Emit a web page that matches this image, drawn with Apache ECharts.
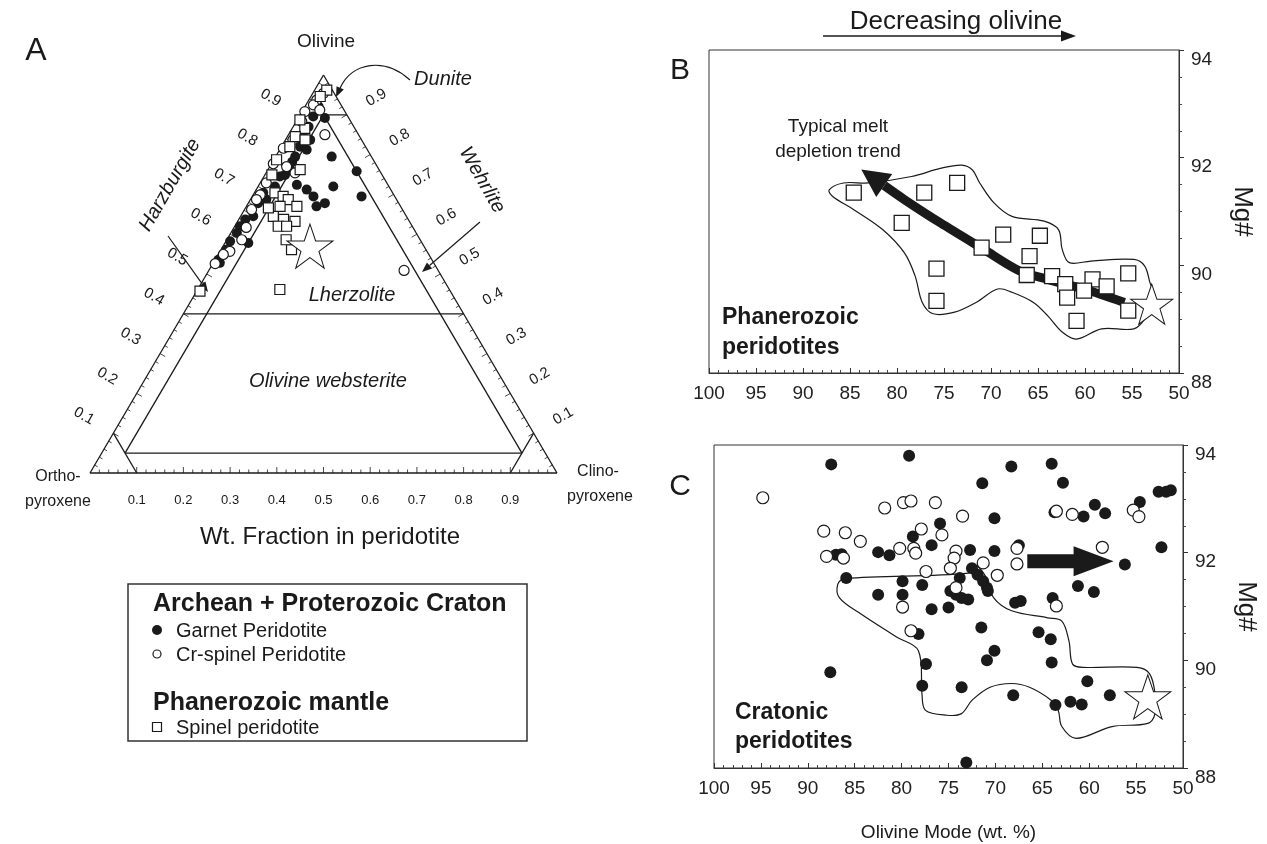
<!DOCTYPE html>
<html><head><meta charset="utf-8">
<script src="https://cdn.jsdelivr.net/npm/echarts@6/dist/echarts.min.js"></script>
<style>html,body{margin:0;padding:0;background:#fff}#c{width:1267px;height:844px}</style>
</head><body><div id="c"></div>
<script>
// ---------------- DATA ----------------
// Panel A: ternary, values are [olivine, clinopyroxene] weight fractions (opx = 1 - ol - cpx)
const ternTickValues = [0.1, 0.2, 0.3, 0.4, 0.5, 0.6, 0.7, 0.8, 0.9];
const ternGarnet = [
  [0.795,0.120],[0.758,0.192],[0.720,0.161],[0.695,0.234],[0.712,0.108],[0.695,0.131],[0.670,0.150],[0.678,0.164],
  [0.921,0.029],[0.896,0.030],[0.870,0.033],[0.845,0.034],[0.820,0.040],[0.795,0.042],[0.762,0.047],[0.745,0.034],
  [0.720,0.036],[0.704,0.019],[0.678,0.021],[0.645,0.027],[0.637,0.014],[0.620,0.011],[0.603,0.013],[0.582,0.009],
  [0.578,0.050],[0.536,0.007],[0.528,0.014],[0.812,0.058],[0.837,0.053],[0.749,0.043],[0.724,0.081],[0.892,0.057],
  [0.782,0.042],[0.687,0.034],[0.561,0.011]
];
const ternCrSpinel = [
  [0.954,0.023],[0.937,0.017],[0.925,0.016],[0.908,0.006],[0.912,0.036],[0.883,0.012],[0.816,0.006],[0.754,0.062],
  [0.699,0.015],[0.687,0.013],[0.662,0.015],[0.586,0.032],[0.557,0.021],[0.549,0.011],[0.526,0.005],[0.850,0.078],
  [0.770,0.036],[0.509,0.418],[0.617,0.026],[0.729,0.013],[0.837,0.016],[0.777,0.004]
];
const ternSpinel = [
  [0.962,0.026],[0.946,0.020],[0.866,0.027],[0.887,0.006],[0.845,0.017],[0.820,0.018],[0.787,0.006],[0.749,0.015],
  [0.704,0.044],[0.695,0.066],[0.687,0.081],[0.670,0.108],[0.645,0.070],[0.637,0.096],[0.632,0.123],[0.670,0.072],
  [0.666,0.049],[0.620,0.093],[0.620,0.111],[0.561,0.151],[0.461,0.176],[0.457,0.007],[0.762,0.069],[0.837,0.042],
  [0.586,0.127]
];
const ternStar = [[0.570, 0.186]];
// classification boundaries [ol1, cpx1, ol2, cpx2]
const ternBoundaries = [
  [0,0, 0,1], [0,1, 1,0], [1,0, 0,0],
  [0.9,0, 0.9,0.1],
  [0.9,0.05, 0.05,0.05],
  [0.9,0.05, 0.05,0.9],
  [0.4,0, 0.4,0.6],
  [0.05,0.05, 0.05,0.9],
  [0.1,0, 0,0.1],
  [0.1,0.9, 0,0.9]
];

// Panel B: Phanerozoic peridotites [olivine mode wt.%, Mg#]
const phanSpinel = [
  [84.6,91.35],[77.1,91.35],[73.6,91.53],[79.5,90.79],[68.7,90.57],[64.8,90.55],[71.0,90.33],[65.9,90.17],
  [75.8,89.94],[75.8,89.34],[66.2,89.82],[63.5,89.80],[62.1,89.65],[59.2,89.74],[57.7,89.61],[55.4,89.85],
  [60.1,89.53],[61.9,89.40],[55.4,89.16],[60.9,88.97]
];
const phanStar = [[52.9, 89.28]];
const phanTrend = [[55.8,89.31],[60.1,89.56],[64.0,89.74],[67.0,89.90],[70.8,90.30],[75.4,90.79],[79.2,91.22],[83.8,91.78]];
const phanEnvelope = [
  [87.22,91.40],[85.70,91.53],[83.03,91.53],[78.45,91.65],[75.40,91.80],[73.11,91.86],[71.97,91.77],[71.20,91.53],
  [69.68,91.16],[67.77,90.91],[64.34,90.82],[62.81,90.66],[62.43,90.30],[61.67,90.05],[59.38,90.08],[54.81,90.11],
  [53.66,89.99],[53.09,89.68],[52.52,89.37],[53.66,89.00],[54.81,88.82],[58.24,88.82],[60.91,88.63],[62.43,88.76],
  [63.96,89.06],[65.48,89.31],[67.77,89.50],[69.30,89.56],[71.59,89.31],[73.87,89.13],[76.16,89.10],[77.31,89.31],
  [78.07,89.80],[79.21,90.23],[81.50,90.66],[84.55,91.03],[86.84,91.28]
];

// Panel C: cratonic peridotites [olivine mode wt.%, Mg#]
const cratGarnet = [
  [87.5,93.64],[79.2,93.80],[68.3,93.60],[64.0,93.65],[62.8,93.30],[71.4,93.29],[70.1,92.64],[63.7,92.75],
  [60.6,92.67],[59.4,92.89],[58.3,92.73],[54.6,92.94],[52.6,93.13],[51.8,93.13],[51.3,93.16],[78.8,92.30],
  [75.9,92.54],[76.8,92.14],[87.0,91.96],[86.4,91.97],[82.5,92.01],[81.3,91.95],[72.7,92.05],[70.1,92.03],
  [67.5,92.14],[52.3,92.10],[56.2,91.78],[72.5,91.71],[71.9,91.59],[71.3,91.47],[70.9,91.35],[70.8,91.29],
  [85.9,91.53],[79.9,91.47],[77.8,91.40],[73.8,91.53],[74.8,91.29],[74.2,91.22],[73.6,91.16],[72.9,91.13],
  [61.2,91.38],[59.5,91.27],[82.5,91.22],[79.9,91.22],[67.9,91.07],[67.3,91.10],[63.9,91.16],[76.8,90.95],
  [75.0,90.98],[71.5,90.61],[78.2,90.49],[65.4,90.52],[64.1,90.39],[77.4,89.93],[70.1,90.18],[70.9,90.00],
  [87.6,89.78],[64.0,89.96],[60.2,89.61],[77.8,89.53],[73.6,89.50],[68.1,89.35],[57.8,89.35],[63.6,89.17],
  [62.0,89.23],[60.8,89.18],[73.1,88.10]
];
const cratCrSpinel = [
  [94.8,93.02],[81.8,92.83],[79.8,92.93],[79.0,92.96],[76.4,92.93],[73.5,92.68],[63.5,92.77],[61.8,92.71],
  [55.3,92.79],[54.7,92.67],[88.3,92.40],[86.0,92.37],[84.4,92.21],[77.9,92.44],[75.7,92.33],[88.0,91.93],
  [86.2,91.90],[80.2,92.08],[78.7,92.08],[78.5,91.99],[74.2,92.03],[74.4,91.90],[67.7,92.08],[67.7,91.79],
  [58.6,92.10],[77.4,91.65],[74.8,91.71],[71.3,91.81],[69.8,91.58],[74.2,91.35],[79.9,90.99],[79.0,90.55],
  [63.5,91.01]
];
const cratStar = [[53.75, 89.32]];
const cratArrow = [[66.6, 91.84], [57.4, 91.84]];
const cratEnvelope = [
  [86.05,91.52],[72.86,91.62],[72.09,91.76],[70.95,91.53],[70.18,91.16],[68.27,90.92],[64.45,90.79],[62.92,90.73],
  [62.16,90.36],[61.77,89.93],[60.63,89.87],[54.89,89.87],[53.56,89.75],[52.98,89.38],[52.98,89.01],[53.75,88.83],
  [57.57,88.77],[61.39,88.55],[62.92,88.77],[63.30,89.07],[64.07,89.26],[66.36,89.50],[68.27,89.57],[70.57,89.50],
  [72.48,89.26],[73.62,89.01],[75.15,88.98],[77.45,89.07],[77.83,89.38],[78.21,90.18],[80.50,90.43],[84.33,90.86],
  [86.62,91.16],[86.81,91.41]
];

// ---------------- LAYOUT / STYLE ----------------
const FONT = '"Liberation Sans", Arial, sans-serif';
const INK = '#1a1a1a';
const STAR = 'path://M50,0 L61.8,34.5 L97.6,34.5 L68.6,55.9 L79.4,90.5 L50,69.1 L20.6,90.5 L31.4,55.9 L2.4,34.5 L38.2,34.5 Z';
const ternAnnot = {
  harz: [[0.167,0.5955],[0.2527,0.4548]],
  wehr: [[0.835,0.6307],[0.7109,0.505]],
  dunite: [[0.6852,0.9874],[0.6317,1.0452],[0.561,1.0327],[0.5268,0.9447]]
};

function ternXY(ol, cpx) { return [cpx + ol / 2, ol]; }
function seg(p1, p2, w) {
  return {type: 'line', shape: {x1: p1[0], y1: p1[1], x2: p2[0], y2: p2[1]}, style: {stroke: INK, lineWidth: w || 1}};
}
function head(tip, from, len, half) {
  const dx = tip[0] - from[0], dy = tip[1] - from[1], L = Math.hypot(dx, dy) || 1, ux = dx / L, uy = dy / L;
  const bx = tip[0] - ux * len, by = tip[1] - uy * len;
  return {base: [bx, by], el: {type: 'polygon', shape: {points: [[tip[0], tip[1]], [bx - uy * half, by + ux * half], [bx + uy * half, by - ux * half]]}, style: {fill: INK}}};
}
function txt(s, x, y, rot, size, pre) {
  return {type: 'text', x: x, y: y, rotation: rot || 0,
    style: {text: s, font: (pre || '') + ' ' + size + 'px ' + FONT, fill: INK, textAlign: 'center', textVerticalAlign: 'middle'}};
}
function gtext(s, x, y, size, opts) {
  opts = opts || {};
  return {type: 'text', x: x, y: y, rotation: opts.rot || 0, z: 100,
    style: {text: s, font: (opts.pre || '') + ' ' + size + 'px ' + FONT, fill: INK,
      textAlign: opts.align || 'center', textVerticalAlign: 'middle'}};
}

const chart = echarts.init(document.getElementById('c'), null, {renderer: 'canvas'});

const xAxisPanel = (grid, extra) => Object.assign({
  gridIndex: grid, type: 'value', min: 50, max: 100, interval: 5, inverse: true,
  axisLine: {show: true, lineStyle: {color: '#333', width: 1}},
  axisTick: {show: true, inside: true, length: 5, lineStyle: {color: '#333'}},
  minorTick: {show: true, splitNumber: 5, length: 3, lineStyle: {color: '#444'}},
  splitLine: {show: false},
  axisLabel: {fontSize: 19, color: '#222', fontFamily: FONT, margin: 11}
}, extra || {});
const yAxisPanel = (grid) => ({
  gridIndex: grid, type: 'value', position: 'right', min: 88, max: 94, interval: 2,
  axisLine: {show: true, lineStyle: {color: '#333', width: 1}},
  axisTick: {show: true, length: 5, lineStyle: {color: '#333'}},
  minorTick: {show: true, splitNumber: 4, length: 3, lineStyle: {color: '#444'}},
  splitLine: {show: false},
  axisLabel: {fontSize: 19, color: '#222', fontFamily: FONT, margin: 12, verticalAlign: 'top'},
  name: 'Mg#', nameLocation: 'middle', nameRotate: -90, nameGap: 50,
  nameTextStyle: {fontSize: 26, color: INK, fontFamily: FONT}
});

const openStyle = {color: '#fff', borderColor: INK, borderWidth: 1.2, opacity: 1};
const fillStyle = {color: INK, opacity: 1};
const starStyle = {color: '#fff', borderColor: INK, borderWidth: 1, opacity: 1};

const option = {
  animation: false,
  backgroundColor: '#fff',
  grid: [
    {left: 90, top: 75, width: 467, height: 398, show: false},
    {left: 709, top: 50, width: 470, height: 323, show: true, borderColor: '#333', borderWidth: 1, backgroundColor: 'transparent'},
    {left: 714, top: 445, width: 469, height: 323, show: true, borderColor: '#333', borderWidth: 1, backgroundColor: 'transparent'}
  ],
  xAxis: [
    {gridIndex: 0, type: 'value', min: 0, max: 1, show: false},
    xAxisPanel(1),
    xAxisPanel(2, {name: 'Olivine Mode (wt. %)', nameLocation: 'middle', nameGap: 55,
      nameTextStyle: {fontSize: 19, color: INK, fontFamily: FONT}})
  ],
  yAxis: [
    {gridIndex: 0, type: 'value', min: 0, max: 1, show: false},
    yAxisPanel(1),
    yAxisPanel(2)
  ],
  series: [
    // ---------- Panel A ----------
    {type: 'custom', xAxisIndex: 0, yAxisIndex: 0, silent: true, clip: false,
      data: ternBoundaries.map(b => ternXY(b[0], b[1])),
      renderItem: (params, api) => {
        const b = ternBoundaries[params.dataIndex];
        return seg(api.coord(ternXY(b[0], b[1])), api.coord(ternXY(b[2], b[3])), 1.3);
      }},
    {type: 'custom', xAxisIndex: 0, yAxisIndex: 0, silent: true, clip: false,
      data: [[0, 0]],
      renderItem: (params, api) => {
        const ch = [];
        for (let k = 1; k < 50; k++) {
          const t = k / 50, len = (k % 5 === 0) ? 6 : 3.5;
          let p = api.coord(ternXY(0, t)); ch.push(seg(p, [p[0], p[1] - len], 0.8));
          p = api.coord(ternXY(t, 0)); ch.push(seg(p, [p[0] + 0.866 * len, p[1] + 0.5 * len], 0.8));
          p = api.coord(ternXY(t, 1 - t)); ch.push(seg(p, [p[0] - 0.866 * len, p[1] + 0.5 * len], 0.8));
        }
        return {type: 'group', children: ch};
      }},
    {type: 'custom', xAxisIndex: 0, yAxisIndex: 0, silent: true, clip: false,
      data: ternTickValues.map(v => [v, 0]),
      renderItem: (params, api) => {
        const v = ternTickValues[params.dataIndex], s = v.toFixed(1);
        const L = api.coord(ternXY(v, 0)), R = api.coord(ternXY(v, 1 - v)), B = api.coord(ternXY(0, v));
        return {type: 'group', children: [
          txt(s, L[0] - 0.866 * 34, L[1] - 0.5 * 34, -Math.PI / 6, 15),
          txt(s, R[0] + 0.866 * 34, R[1] - 0.5 * 34, Math.PI / 6, 15),
          txt(s, B[0], B[1] + 27, 0, 13)
        ]};
      }},
    {type: 'custom', xAxisIndex: 0, yAxisIndex: 0, silent: true, clip: false,
      data: [[0, 0]],
      renderItem: (params, api) => {
        const ch = [];
        ['harz', 'wehr'].forEach(k => {
          const a = api.coord(ternAnnot[k][0]), b = api.coord(ternAnnot[k][1]);
          const h = head(b, a, 10, 4);
          ch.push(seg(a, h.base, 1.2)); ch.push(h.el);
        });
        const d = ternAnnot.dunite.map(p => api.coord(p));
        const h = head(d[3], d[2], 10, 4);
        ch.push({type: 'bezierCurve', shape: {x1: d[0][0], y1: d[0][1], cpx1: d[1][0], cpy1: d[1][1], cpx2: d[2][0], cpy2: d[2][1], x2: h.base[0], y2: h.base[1]},
          style: {stroke: INK, lineWidth: 1.2, fill: null}});
        ch.push(h.el);
        return {type: 'group', children: ch};
      }},
    {type: 'scatter', xAxisIndex: 0, yAxisIndex: 0, symbol: 'circle', symbolSize: 10,
      itemStyle: fillStyle, data: ternGarnet.map(d => ternXY(d[0], d[1]))},
    {type: 'scatter', xAxisIndex: 0, yAxisIndex: 0, symbol: 'circle', symbolSize: 10,
      itemStyle: openStyle, data: ternCrSpinel.map(d => ternXY(d[0], d[1]))},
    {type: 'scatter', xAxisIndex: 0, yAxisIndex: 0, symbol: 'rect', symbolSize: 10,
      itemStyle: openStyle, data: ternSpinel.map(d => ternXY(d[0], d[1]))},
    {type: 'scatter', xAxisIndex: 0, yAxisIndex: 0, symbol: STAR, symbolSize: [46, 44],
      itemStyle: starStyle, data: ternStar.map(d => ternXY(d[0], d[1]))},

    // ---------- Panel B ----------
    {type: 'custom', xAxisIndex: 1, yAxisIndex: 1, silent: true, data: [phanEnvelope[0]],
      renderItem: (params, api) => ({type: 'polygon', shape: {points: phanEnvelope.map(p => api.coord(p)), smooth: 0.35},
        style: {fill: null, stroke: INK, lineWidth: 1.2}})},
    {type: 'custom', xAxisIndex: 1, yAxisIndex: 1, silent: true, data: [phanTrend[0]],
      renderItem: (params, api) => {
        const pts = phanTrend.map(p => api.coord(p));
        const tip = pts[pts.length - 1], prev = pts[pts.length - 2];
        const h = head(tip, prev, 28, 14);
        const body = pts.slice(0, -1).concat([h.base]);
        return {type: 'group', children: [
          {type: 'polyline', shape: {points: body, smooth: 0.3}, style: {stroke: INK, lineWidth: 9, fill: null}},
          h.el]};
      }},
    {type: 'scatter', xAxisIndex: 1, yAxisIndex: 1, symbol: 'rect', symbolSize: 15,
      itemStyle: {color: '#fff', borderColor: INK, borderWidth: 1.3, opacity: 1}, data: phanSpinel},
    {type: 'scatter', xAxisIndex: 1, yAxisIndex: 1, symbol: STAR, symbolSize: [42, 40],
      itemStyle: starStyle, data: phanStar},

    // ---------- Panel C ----------
    {type: 'custom', xAxisIndex: 2, yAxisIndex: 2, silent: true, data: [cratEnvelope[0]],
      renderItem: (params, api) => ({type: 'polygon', shape: {points: cratEnvelope.map(p => api.coord(p)), smooth: 0.35},
        style: {fill: null, stroke: INK, lineWidth: 1.2}})},
    {type: 'scatter', xAxisIndex: 2, yAxisIndex: 2, symbol: 'circle', symbolSize: 12,
      itemStyle: fillStyle, data: cratGarnet},
    {type: 'scatter', xAxisIndex: 2, yAxisIndex: 2, symbol: 'circle', symbolSize: 12,
      itemStyle: openStyle, data: cratCrSpinel},
    {type: 'scatter', xAxisIndex: 2, yAxisIndex: 2, symbol: STAR, symbolSize: [46, 44],
      itemStyle: starStyle, data: cratStar},
    {type: 'custom', xAxisIndex: 2, yAxisIndex: 2, silent: true, data: [cratArrow[0]],
      renderItem: (params, api) => {
        const a = api.coord(cratArrow[0]), b = api.coord(cratArrow[1]);
        const hl = 40, hh = 15, bh = 7, bx = b[0] - hl;
        return {type: 'polygon', shape: {points: [[a[0], a[1] - bh], [bx, a[1] - bh], [bx, a[1] - hh], [b[0], b[1]],
          [bx, a[1] + hh], [bx, a[1] + bh], [a[0], a[1] + bh]]}, style: {fill: INK}};
      }}
  ],
  graphic: [
    // Panel A texts
    gtext('A', 36, 51, 32),
    gtext('Olivine', 326, 42, 19),
    gtext('Dunite', 443, 79, 20, {pre: 'italic'}),
    gtext('Harzburgite', 170, 185, 20, {pre: 'italic', rot: Math.PI / 3}),
    gtext('Wehrlite', 482, 180, 20, {pre: 'italic', rot: -Math.PI / 3}),
    gtext('Lherzolite', 352, 295, 20, {pre: 'italic'}),
    gtext('Olivine websterite', 328, 381, 20, {pre: 'italic'}),
    gtext('Ortho-', 58, 477, 16),
    gtext('pyroxene', 58, 502, 16),
    gtext('Clino-', 598, 472, 16),
    gtext('pyroxene', 600, 497, 16),
    gtext('Wt. Fraction in peridotite', 330, 537, 24),
    // legend
    {type: 'rect', shape: {x: 128, y: 584, width: 399, height: 157}, style: {fill: null, stroke: '#333', lineWidth: 1.5}},
    gtext('Archean + Proterozoic Craton', 153, 604, 25, {pre: 'bold', align: 'left'}),
    {type: 'circle', shape: {cx: 157, cy: 630, r: 5}, style: {fill: INK}},
    gtext('Garnet Peridotite', 176, 631, 20, {align: 'left'}),
    {type: 'circle', shape: {cx: 157, cy: 654, r: 4}, style: {fill: '#fff', stroke: INK, lineWidth: 1.2}},
    gtext('Cr-spinel Peridotite', 176, 655, 20, {align: 'left'}),
    gtext('Phanerozoic mantle', 153, 703, 25, {pre: 'bold', align: 'left'}),
    {type: 'rect', shape: {x: 152.5, y: 722.5, width: 9, height: 9}, style: {fill: '#fff', stroke: INK, lineWidth: 1.2}},
    gtext('Spinel peridotite', 176, 728, 20, {align: 'left'}),
    // Panels B, C texts
    gtext('B', 680, 71, 30),
    gtext('C', 680, 487, 30),
    gtext('Decreasing olivine', 956, 22, 26),
    {type: 'line', shape: {x1: 823, y1: 36, x2: 1063, y2: 36}, style: {stroke: INK, lineWidth: 1.5}},
    {type: 'polygon', shape: {points: [[1076, 36], [1061, 30.5], [1061, 41.5]]}, style: {fill: INK}},
    gtext('Typical melt', 838, 127, 19),
    gtext('depletion trend', 838, 152, 19),
    gtext('Phanerozoic', 722, 318, 23, {pre: 'bold', align: 'left'}),
    gtext('peridotites', 722, 348, 23, {pre: 'bold', align: 'left'}),
    gtext('Cratonic', 735, 713, 23, {pre: 'bold', align: 'left'}),
    gtext('peridotites', 735, 742, 23, {pre: 'bold', align: 'left'})
  ]
};
chart.setOption(option);
</script>
</body></html>
